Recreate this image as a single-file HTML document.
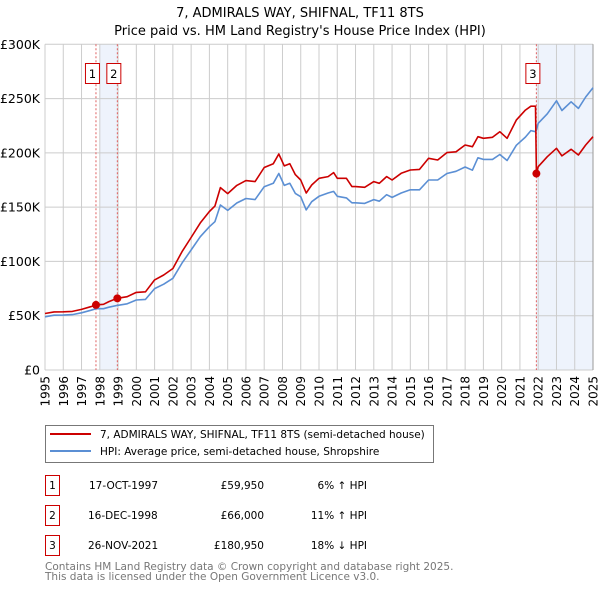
<!DOCTYPE html>
<html><head><meta charset="utf-8"><style>
body{margin:0;background:#fff;font-family:"Liberation Sans","DejaVu Sans",sans-serif}
svg{display:block}
</style></head><body>
<svg id="c" width="600" height="590" viewBox="0 0 600 590" xmlns="http://www.w3.org/2000/svg" font-family="DejaVu Sans, Liberation Sans, sans-serif">
<text x="300" y="17" text-anchor="middle" font-size="13">7, ADMIRALS WAY, SHIFNAL, TF11 8TS</text>
<text x="300" y="35" text-anchor="middle" font-size="13">Price paid vs. HM Land Registry's House Price Index (HPI)</text>
<g id="plot"></g>
<g>
<rect x="45.5" y="425.5" width="388" height="37" fill="#fff" stroke="#777"/>
<line x1="50" y1="434" x2="91" y2="434" stroke="#cc0000" stroke-width="2"/>
<text x="100" y="438" font-size="10.5">7, ADMIRALS WAY, SHIFNAL, TF11 8TS (semi-detached house)</text>
<line x1="50" y1="451" x2="91" y2="451" stroke="#5b8fd4" stroke-width="2"/>
<text x="100" y="455" font-size="10.5">HPI: Average price, semi-detached house, Shropshire</text>
</g>
<g font-size="10.5">
<rect x="45.5" y="475.5" width="14" height="20" fill="none" stroke="#cc0000"/><text x="52.5" y="489" text-anchor="middle">1</text>
<text x="89" y="489">17-OCT-1997</text><text x="264" y="489" text-anchor="end">£59,950</text><text x="367" y="489" text-anchor="end">6% ↑ HPI</text>
<rect x="45.5" y="505.5" width="14" height="20" fill="none" stroke="#cc0000"/><text x="52.5" y="519" text-anchor="middle">2</text>
<text x="88" y="519">16-DEC-1998</text><text x="264" y="519" text-anchor="end">£66,000</text><text x="367" y="519" text-anchor="end">11% ↑ HPI</text>
<rect x="45.5" y="535.5" width="14" height="20" fill="none" stroke="#cc0000"/><text x="52.5" y="549" text-anchor="middle">3</text>
<text x="88" y="549">26-NOV-2021</text><text x="264" y="549" text-anchor="end">£180,950</text><text x="367" y="549" text-anchor="end">18% ↓ HPI</text>
</g>
<text x="45" y="570" font-size="10.5" fill="#777">Contains HM Land Registry data © Crown copyright and database right 2025.</text>
<text x="45" y="580" font-size="10.5" fill="#777">This data is licensed under the Open Government Licence v3.0.</text>
</svg>
<script>
const years=[1995,1995.5,1996,1996.5,1997,1997.5,1997.8,1998.2,1998.5,1998.96,1999.5,2000,2000.5,2001,2001.5,2002,2002.5,2003,2003.5,2004,2004.3,2004.6,2005,2005.5,2006,2006.5,2007,2007.5,2007.8,2008.1,2008.4,2008.7,2009,2009.3,2009.6,2010,2010.5,2010.8,2011,2011.5,2011.8,2012,2012.5,2013,2013.3,2013.7,2014,2014.5,2015,2015.5,2016,2016.5,2017,2017.5,2018,2018.4,2018.7,2019,2019.5,2019.9,2020.3,2020.8,2021.3,2021.6,2021.85,2021.9,2022,2022.5,2023,2023.3,2023.8,2024.2,2024.6,2025];
const hpiValues=[49,50.5,50.6,51,52.7,55,56.5,56.5,57.8,59.5,61,64.5,65,75,79,84.5,98.5,110.5,122.8,132,136.6,152,147,153.8,158,157,168.8,172,181,170,172,162.7,159.6,147.5,155,160,163,164.5,160,158.5,154,154,153.5,157,155.5,161.5,159,163,166,166,175,175,181,183,187,184,195.5,194,194,198.5,193,207,214.5,220.5,219.5,221,227.2,236,248,239,247,241,251.5,260];
const priceValues=[52,53.5,53.6,54,55.8,58.3,59.95,60.5,63,66,67.5,71.5,72,83,87.5,93.5,109,122,135.5,146,151,168,162.5,170,174.5,173.5,186.5,190,199,188,190,180,175,163,170.4,176.6,178.1,181.8,176.6,176.6,168.9,168.9,168.3,173.5,172,178.1,175,181.2,184.2,184.8,195,193.4,200.2,201,207.2,205.7,214.9,213.4,214.3,219.5,213.4,230.2,239.4,243,243,180.95,187.3,196.5,204.2,197.2,203.3,198,207.2,214.9];
const yTicks=[0,50,100,150,200,250,300];
const yTickLabels=["£0","£50K","£100K","£150K","£200K","£250K","£300K"];
const xTicks=[1995,1996,1997,1998,1999,2000,2001,2002,2003,2004,2005,2006,2007,2008,2009,2010,2011,2012,2013,2014,2015,2016,2017,2018,2019,2020,2021,2022,2023,2024,2025];
const saleYears=[1997.79,1998.96,2021.9];
const salePrices=[59.95,66,180.95];
const saleLabels=["1","2","3"];
const shadeRanges=[[1998.0,1998.96],[2021.9,2025]];

const X0=45,X1=593,Y0=370,Y1=44.3;
const x=v=>X0+(v-1995)/30*(X1-X0);
const y=v=>Y0-v/300*(Y0-Y1);
const NS="http://www.w3.org/2000/svg";
const g=document.getElementById('plot');
function mk(t,a,p){const e=document.createElementNS(NS,t);for(const k in a)e.setAttribute(k,a[k]);(p||g).appendChild(e);return e;}
shadeRanges.forEach(r=>{
 const e=mk('rect',{x:x(r[0]),y:Y1,width:x(r[1])-x(r[0]),height:Y0-Y1,fill:'#eef3fc'});
 
 
});
xTicks.forEach(t=>{
 const l=mk('line',{x1:x(t),x2:x(t),y1:Y1,y2:Y0,stroke:'#cccccc','stroke-width':1});
 
 
 const tx=mk('text',{x:0,y:0,'font-size':12,'text-anchor':'end',transform:`translate(${x(t)+4.5},${Y0+6}) rotate(-90)`});
 tx.textContent=t;
 
 
});
yTicks.forEach((t,i)=>{
 const l=mk('line',{x1:X0,x2:X1,y1:y(t),y2:y(t),stroke:'#cccccc','stroke-width':1});
 
 
 const tx=mk('text',{x:40,y:y(t)+4.5,'font-size':12.5,'text-anchor':'end'});
 tx.textContent=yTickLabels[i];
 
 
});
const border=mk('line',{x1:X1,x2:X1,y1:Y1,y2:Y0,stroke:'#999','stroke-width':1});


saleYears.forEach((s,i)=>{
 const l=mk('line',{x1:x(s),x2:x(s),y1:Y1,y2:Y0,stroke:'#e06060','stroke-width':1,'stroke-dasharray':'2,2'});
 
 
});
const pts=v=>years.map((yr,i)=>x(yr).toFixed(1)+','+y(v[i]).toFixed(1)).join(' ');
const hp=mk('polyline',{points:pts(hpiValues),fill:'none',stroke:'#5b8fd4','stroke-width':1.6,'stroke-linejoin':'round'});


const pp=mk('polyline',{points:pts(priceValues),fill:'none',stroke:'#cc0000','stroke-width':1.6,'stroke-linejoin':'round'});


saleYears.forEach((s,i)=>{
 const c=mk('circle',{cx:x(s),cy:y(salePrices[i]),r:4,fill:'#cc0000'});
 
 
 const bx=x(s)-3.5-7;
 const r=mk('rect',{x:bx,y:63.5,width:14,height:20,fill:'#fff',stroke:'#cc0000'});
 
 
 const t=mk('text',{x:bx+7,y:78,'font-size':11.5,'text-anchor':'middle'});
 t.textContent=saleLabels[i];
 
 
});
</script>
</body></html>
